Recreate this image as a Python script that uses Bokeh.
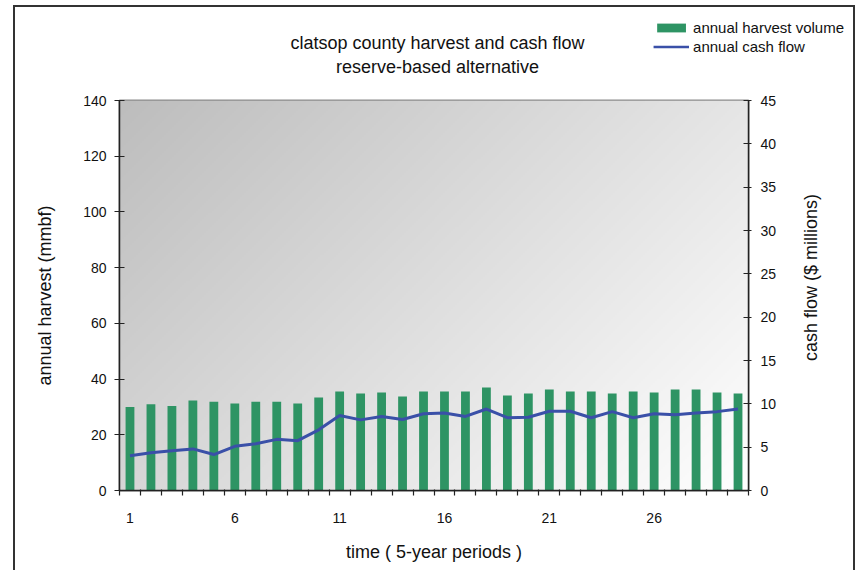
import math
import numpy as np
from bokeh.plotting import figure
from bokeh.layouts import column, row
from bokeh.models import (Range1d, LinearAxis, FixedTicker, Legend, LegendItem,
                          ColumnDataSource, Label, InlineStyleSheet)
from bokeh.embed import file_html
from bokeh.resources import INLINE

# ---------------- data ----------------
periods = list(range(1, 31))
harvest = [30.0, 31.0, 30.3, 32.3, 31.9, 31.2, 31.9, 31.9, 31.2, 33.4,
           35.5, 34.8, 35.2, 33.7, 35.5, 35.5, 35.5, 37.0, 34.1, 34.8,
           36.3, 35.5, 35.5, 34.8, 35.5, 35.2, 36.3, 36.3, 35.2, 34.8]
cash_flow = [4.0, 4.35, 4.6, 4.8, 4.15, 5.1, 5.4, 5.9, 5.75, 7.0,
             8.65, 8.15, 8.55, 8.2, 8.85, 8.95, 8.55, 9.4, 8.4, 8.45,
             9.15, 9.15, 8.4, 9.1, 8.4, 8.85, 8.75, 8.95, 9.1, 9.4]
x_tick_labels = [1, 6, 11, 16, 21, 26]
left_ticks = [0, 20, 40, 60, 80, 100, 120, 140]
right_ticks = [0, 5, 10, 15, 20, 25, 30, 35, 40, 45]
title_text = "clatsop county harvest and cash flow\nreserve-based alternative"
right_label = "cash flow ($ millions)"

FONT = "Liberation Sans"
TXT = "#111111"
AX = "#222222"
GREEN = "#2e9464"
BLUE = "#3a50a8"

src = ColumnDataSource(dict(period=periods, harvest=harvest, cash=cash_flow))


def no_align(fig):
    if "frame_align" in fig.properties():
        try:
            fig.frame_align = False
        except Exception:
            pass


# ---------------- header (title + legend) ----------------
HW, HH = 856, 90
H_TOP, H_RIGHT = 18, 12
header = figure(width=HW, height=HH, output_backend="svg", toolbar_location=None,
                x_range=Range1d(0, HW - H_RIGHT), y_range=Range1d(HH, H_TOP),
                x_axis_location=None, y_axis_location=None, title_location=None,
                min_border=0, min_border_left=0, min_border_right=H_RIGHT,
                min_border_top=H_TOP, min_border_bottom=0,
                background_fill_color="white", border_fill_color="white")
no_align(header)
header.outline_line_color = None
header.grid.visible = False
header.extra_y_ranges = {"off": Range1d(1000, 2000)}

header.add_layout(Label(x=437, y=54, text=title_text, text_align="center",
                        text_baseline="middle", text_font=FONT,
                        text_font_size="18px", text_color=TXT,
                        text_line_height=1.2))

# legend entries share the series styles (these header copies fall outside the view)
leg_bars = header.vbar(x="period", top="harvest", width=0.42, source=src,
                       y_range_name="off", fill_color=GREEN, line_color=None)
leg_line = header.line(x="period", y="cash", source=src, y_range_name="off",
                       line_color=BLUE, line_width=2.5)
legend = Legend(items=[LegendItem(label="annual harvest volume", renderers=[leg_bars]),
                       LegendItem(label="annual cash flow", renderers=[leg_line])],
                location="top_right", padding=0, margin=0, spacing=0,
                glyph_width=36, glyph_height=11, label_height=19,
                label_standoff=4, border_line_color=None,
                background_fill_alpha=0,
                label_text_font=FONT, label_text_font_size="15px",
                label_text_color=TXT)
header.add_layout(legend)

# ---------------- main chart ----------------
MW, MH = 790, 480
p = figure(width=MW, height=MH, output_backend="svg", toolbar_location=None,
           x_range=Range1d(0.5, 30.5), y_range=Range1d(0, 140),
           title_location=None,
           min_border_left=119, min_border_right=MW - 748,
           min_border_top=10, min_border_bottom=80,
           background_fill_color="white", border_fill_color="white")
p.extra_y_ranges = {"cash": Range1d(0, 45)}

# gradient background of plot area (style only)
nx, ny = 315, 195
X, Y = np.meshgrid(np.linspace(0, 1, nx), np.linspace(0, 1, ny))
t = (X * 629 + (1 - Y) * 390) / (629 + 390)
g = (189 + 66 * t).clip(0, 255).astype(np.uint8)
img = np.empty((ny, nx), dtype=np.uint32)
view = img.view(dtype=np.uint8).reshape((ny, nx, 4))
view[..., 0] = g
view[..., 1] = g
view[..., 2] = g
view[..., 3] = 255
p.image_rgba(image=[img], x=p.x_range.start, y=p.y_range.start,
             dw=p.x_range.end - p.x_range.start, dh=p.y_range.end - p.y_range.start)

bars = p.vbar(x="period", top="harvest", width=0.42, source=src,
              fill_color=GREEN, line_color=None)
line = p.line(x="period", y="cash", y_range_name="cash", source=src,
              line_color=BLUE, line_width=3)

p.xgrid.grid_line_color = None
p.ygrid.grid_line_color = None
p.outline_line_color = "#8c8c8c"
p.outline_line_width = 2

# x axis
xa = p.xaxis[0]
xa.ticker = FixedTicker(ticks=x_tick_labels,
                        minor_ticks=[k - 0.5 for k in periods] + [periods[-1] + 0.5])
xa.major_tick_in = 0
xa.major_tick_out = 0
xa.minor_tick_in = 1
xa.minor_tick_out = 5
xa.minor_tick_line_color = AX
xa.minor_tick_line_width = 1.2
xa.axis_line_color = AX
xa.axis_line_width = 1.5
xa.major_label_standoff = 17
xa.major_label_text_font = FONT
xa.major_label_text_font_size = "14px"
xa.major_label_text_color = TXT
xa.axis_label = "time ( 5-year periods )"
xa.axis_label_text_font = FONT
xa.axis_label_text_font_size = "18px"
xa.axis_label_text_font_style = "normal"
xa.axis_label_text_color = TXT
xa.axis_label_standoff = 16

# left axis
ya = p.yaxis[0]
ya.ticker = FixedTicker(ticks=left_ticks)
ya.major_tick_in = 5
ya.major_tick_out = 5
ya.minor_tick_line_color = None
ya.major_tick_line_color = AX
ya.major_tick_line_width = 1.2
ya.axis_line_color = AX
ya.axis_line_width = 1.5
ya.major_label_standoff = 8
ya.major_label_text_font = FONT
ya.major_label_text_font_size = "14px"
ya.major_label_text_color = TXT
ya.axis_label = "annual harvest (mmbf)"
ya.axis_label_text_font = FONT
ya.axis_label_text_font_size = "18px"
ya.axis_label_text_font_style = "normal"
ya.axis_label_text_color = TXT
ya.axis_label_standoff = 25

# right axis (its title is set beside it, reading upward like the reference)
ra = LinearAxis(y_range_name="cash", ticker=FixedTicker(ticks=right_ticks))
ra.major_tick_in = 5
ra.major_tick_out = 3
ra.minor_tick_line_color = None
ra.major_tick_line_color = AX
ra.major_tick_line_width = 1.2
ra.axis_line_color = AX
ra.axis_line_width = 1.5
ra.major_label_standoff = 9
ra.major_label_text_font = FONT
ra.major_label_text_font_size = "14px"
ra.major_label_text_color = TXT
p.add_layout(ra, "right")

# ---------------- right-hand axis title strip ----------------
RW = HW - MW
rfig = figure(width=RW, height=MH, output_backend="svg", toolbar_location=None,
              x_range=Range1d(0, RW), y_range=Range1d(MH, 0),
              x_axis_location=None, y_axis_location=None, title_location=None,
              min_border=0, min_border_left=0, min_border_right=0,
              min_border_top=0, min_border_bottom=0,
              background_fill_color="white", border_fill_color="white")
no_align(rfig)
rfig.outline_line_color = None
rfig.grid.visible = False
rfig.add_layout(Label(x=20, y=187, text=right_label, angle=math.pi / 2,
                      angle_units="rad", text_align="center", text_baseline="middle",
                      text_font=FONT, text_font_size="18px", text_color=TXT))

layout = column(header, row(p, rfig, spacing=0), spacing=0,
                stylesheets=[InlineStyleSheet(css="""
:host { position: relative; }
:host::after { content: ''; position: absolute; left: 13px; top: 5px;
  width: 842px; height: 565px; box-sizing: border-box;
  border: 2px solid #333333; border-bottom: none; pointer-events: none; }
""")])

open("out.html", "w").write(file_html(layout, INLINE))
